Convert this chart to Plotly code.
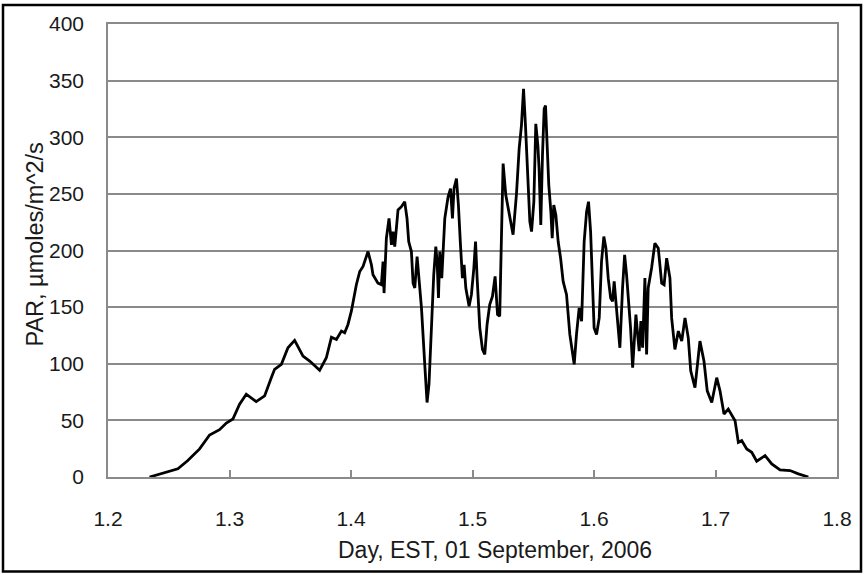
import plotly.graph_objects as go

# Day (fraction) and PAR values
day = [1.2342, 1.2480, 1.2575, 1.2657, 1.2754, 1.2836, 1.2918, 1.2974, 1.3028, 1.3083,
       1.3138, 1.3220, 1.3289, 1.3344, 1.3371, 1.3427, 1.3481, 1.3536, 1.3605, 1.3660,
       1.3742, 1.3797, 1.3839, 1.3880, 1.3921, 1.3948, 1.3975, 1.4003, 1.4044, 1.4072,
       1.4099, 1.4140, 1.4168, 1.4181, 1.4222, 1.4250, 1.4264, 1.4272, 1.4291, 1.4313,
       1.4333, 1.4346, 1.4360, 1.4387, 1.4415, 1.4442, 1.4461, 1.4475, 1.4497, 1.4511,
       1.4525, 1.4544, 1.4560, 1.4580, 1.4607, 1.4626, 1.4642, 1.4662, 1.4681, 1.4698,
       1.4709, 1.4720, 1.4731, 1.4747, 1.4772, 1.4799, 1.4819, 1.4835, 1.4848, 1.4868,
       1.4884, 1.4901, 1.4917, 1.4931, 1.4945, 1.4972, 1.4991, 1.5011, 1.5025, 1.5038,
       1.5060, 1.5082, 1.5101, 1.5120, 1.5142, 1.5164, 1.5186, 1.5206, 1.5224, 1.5238,
       1.5252, 1.5274, 1.5307, 1.5334, 1.5362, 1.5384, 1.5403, 1.5420, 1.5436, 1.5453,
       1.5472, 1.5486, 1.5505, 1.5521, 1.5538, 1.5548, 1.5562, 1.5576, 1.5590, 1.5601,
       1.5615, 1.5628, 1.5645, 1.5656, 1.5669, 1.5686, 1.5705, 1.5725, 1.5746, 1.5774,
       1.5801, 1.5829, 1.5837, 1.5856, 1.5878, 1.5898, 1.5919, 1.5939, 1.5955, 1.5972,
       1.5988, 1.6001, 1.6021, 1.6043, 1.6062, 1.6081, 1.6098, 1.6117, 1.6137, 1.6153,
       1.6166, 1.6186, 1.6199, 1.6213, 1.6235, 1.6252, 1.6268, 1.6287, 1.6301, 1.6318,
       1.6331, 1.6345, 1.6359, 1.6372, 1.6386, 1.6400, 1.6419, 1.6433, 1.6446, 1.6474,
       1.6501, 1.6529, 1.6557, 1.6577, 1.6598, 1.6625, 1.6639, 1.6666, 1.6694, 1.6722,
       1.6749, 1.6776, 1.6796, 1.6831, 1.6872, 1.6905, 1.6932, 1.6969, 1.7010, 1.7037,
       1.7070, 1.7105, 1.7161, 1.7188, 1.7216, 1.7257, 1.7298, 1.7339, 1.7408, 1.7463,
       1.7531, 1.7614, 1.7682, 1.7764]

par = [0.0, 4.2, 7.2, 14.5, 24.8, 37.1, 41.8, 47.6, 51.2, 64.3,
       73.1, 66.6, 71.6, 87.7, 95.1, 99.5, 114.1, 120.6, 106.8, 102.4,
       94.2, 105.3, 123.5, 121.5, 128.8, 127.3, 134.7, 146.4, 169.8, 181.5,
       185.9, 199.1, 187.4, 178.6, 171.2, 169.8, 190.3, 162.4, 210.8, 228.4,
       205.0, 216.7, 203.5, 235.8, 238.7, 243.1, 228.4, 207.9, 199.1, 171.2,
       166.9, 194.7, 175.6, 149.3, 99.5, 65.8, 81.9, 128.8, 178.6, 203.5,
       190.3, 158.0, 199.1, 175.6, 228.4, 247.4, 254.7, 228.4, 254.7, 263.5,
       240.2, 205.0, 175.6, 187.4, 166.9, 150.7, 161.0, 184.5, 207.9, 175.6,
       131.7, 112.7, 108.3, 134.7, 152.2, 159.5, 177.1, 143.4, 142.0, 210.8,
       276.7, 249.0, 228.4, 214.0, 250.0, 289.9, 310.5, 342.7, 310.5, 269.4,
       225.5, 216.7, 243.1, 311.9, 292.9, 272.3, 222.6, 284.1, 325.1, 328.0,
       292.9, 257.7, 234.3, 210.8, 240.2, 231.4, 207.9, 193.2, 172.7, 161.0,
       125.9, 108.3, 99.5, 125.9, 149.3, 137.6, 207.9, 234.3, 243.1, 216.7,
       161.0, 131.7, 125.9, 140.5, 190.3, 212.3, 202.0, 175.6, 158.0, 155.1,
       172.7, 149.3, 131.7, 114.1, 166.9, 196.2, 178.6, 152.2, 131.7, 96.5,
       122.9, 143.4, 125.9, 111.2, 137.6, 114.1, 175.6, 108.3, 166.9, 184.5,
       206.4, 202.0, 171.2, 169.8, 193.2, 175.6, 140.5, 112.7, 128.8, 120.0,
       140.5, 122.9, 93.7, 78.9, 120.0, 102.4, 76.1, 65.8, 87.7, 76.1,
       55.6, 60.0, 49.7, 30.6, 32.1, 24.8, 21.8, 13.9, 18.9, 11.6,
       6.3, 5.7, 2.8, 0.0]

x_ticks = [1.2, 1.3, 1.4, 1.5, 1.6, 1.7, 1.8]
y_ticks = [0, 50, 100, 150, 200, 250, 300, 350, 400]
x_title = "Day, EST, 01 September, 2006"
y_title = "PAR, µmoles/m^2/s"

W, H = 864, 575
ML, MR, MT, MB = 108, 27, 22, 98
PW, PH = W - ML - MR, H - MT - MB

def px_to_paper_x(px):
    return (px - ML) / PW

def px_to_paper_y(py):
    return (H - MB - py) / PH

FONT = "Liberation Sans, Arial, sans-serif"
TXT = "#1a1a1a"

fig = go.Figure()
fig.add_trace(go.Scatter(
    x=day, y=par, mode="lines",
    line=dict(color="black", width=2.8),
    hoverinfo="x+y", showlegend=False,
))

fig.update_layout(
    width=W, height=H,
    margin=dict(l=ML, r=MR, t=MT, b=MB, pad=0),
    paper_bgcolor="white", plot_bgcolor="white",
    font=dict(family=FONT, color=TXT, size=21),
    xaxis=dict(
        range=[1.2, 1.8], tickvals=x_ticks, tickformat=".1f",
        showgrid=False, zeroline=False,
        showline=True, linecolor="#8a8a8a", linewidth=1.5, mirror=True,
        ticks="inside", ticklen=7, tickwidth=1.5, tickcolor="#8a8a8a",
        ticklabelstandoff=22,
        tickfont=dict(size=21),
    ),
    yaxis=dict(
        range=[0, 400], tickvals=y_ticks,
        showgrid=True, gridcolor="#8a8a8a", gridwidth=1.5, zeroline=False,
        showline=True, linecolor="#8a8a8a", linewidth=1.5, mirror=True,
        ticks="", ticklabelstandoff=18,
        tickfont=dict(size=21),
    ),
    annotations=[
        dict(text=x_title, xref="paper", yref="paper",
             x=px_to_paper_x(494.5), y=px_to_paper_y(550),
             xanchor="center", yanchor="middle", showarrow=False,
             font=dict(family=FONT, size=23, color=TXT)),
        dict(text=y_title, xref="paper", yref="paper",
             x=px_to_paper_x(35), y=px_to_paper_y(243.5),
             xanchor="center", yanchor="middle", showarrow=False, textangle=-90,
             font=dict(family=FONT, size=23.5, color=TXT)),
    ],
    shapes=[dict(
        type="rect", xref="paper", yref="paper",
        x0=px_to_paper_x(3), x1=px_to_paper_x(861),
        y0=px_to_paper_y(572), y1=px_to_paper_y(3),
        line=dict(color="black", width=2.5), fillcolor="rgba(0,0,0,0)",
        layer="above",
    )],
)

fig.write_html("out.html")
